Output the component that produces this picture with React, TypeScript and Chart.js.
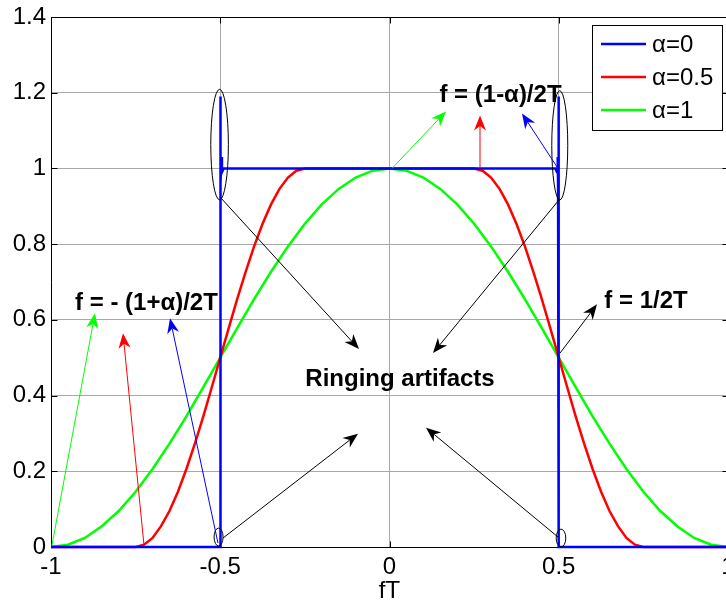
import React, { useEffect, useRef } from 'react';
import { Chart, registerables } from 'chart.js';

Chart.register(...registerables);

// ---------- data ----------
const xTicks = [-1, -0.5, 0, 0.5, 1];
const xTickLabels = ['-1', '-0.5', '0', '0.5', '1'];
const yTicks = [0, 0.2, 0.4, 0.6, 0.8, 1, 1.2, 1.4];
const yTickLabels = ['0', '0.2', '0.4', '0.6', '0.8', '1', '1.2', '1.4'];

const seriesLabels = ['\u03b1=0', '\u03b1=0.5', '\u03b1=1'];
const seriesColors = ['#0000ff', '#ff0000', '#00ff00'];

// alpha = 0 (ideal brick-wall with ringing at the edges)
const blueX = [-1, -0.5, -0.5, -0.5, -0.499, -0.498, -0.497, -0.495, -0.49, 0.49, 0.495, 0.497, 0.498, 0.499, 0.5, 0.5, 0.5, 1];
const blueY = [0, 0, 1.19, 0.93, 1.06, 0.96, 1.03, 0.99, 1.0, 1.0, 0.99, 1.03, 0.96, 1.06, 0.93, 1.19, 0, 0];

// alpha = 0.5
const redX = [
  -1,
  -0.75, -0.725, -0.7, -0.675, -0.65, -0.625, -0.6, -0.575, -0.55, -0.525, -0.5,
  -0.475, -0.45, -0.425, -0.4, -0.375, -0.35, -0.325, -0.3, -0.275, -0.25,
  0.25, 0.275, 0.3, 0.325, 0.35, 0.375, 0.4, 0.425, 0.45, 0.475, 0.5,
  0.525, 0.55, 0.575, 0.6, 0.625, 0.65, 0.675, 0.7, 0.725, 0.75,
  1,
];
const redY = [
  0,
  0, 0.006, 0.024, 0.055, 0.095, 0.146, 0.206, 0.273, 0.345, 0.422, 0.5,
  0.578, 0.655, 0.727, 0.794, 0.854, 0.905, 0.946, 0.976, 0.994, 1,
  1, 0.994, 0.976, 0.946, 0.905, 0.854, 0.794, 0.727, 0.655, 0.578, 0.5,
  0.422, 0.345, 0.273, 0.206, 0.146, 0.095, 0.055, 0.024, 0.006, 0,
  0,
];

// alpha = 1
const greenX = [
  -1, -0.95, -0.9, -0.85, -0.8, -0.75, -0.7, -0.65, -0.6, -0.55, -0.5,
  -0.45, -0.4, -0.35, -0.3, -0.25, -0.2, -0.15, -0.1, -0.05, 0,
  0.05, 0.1, 0.15, 0.2, 0.25, 0.3, 0.35, 0.4, 0.45, 0.5,
  0.55, 0.6, 0.65, 0.7, 0.75, 0.8, 0.85, 0.9, 0.95, 1,
];
const greenY = [
  0, 0.006, 0.024, 0.055, 0.095, 0.146, 0.206, 0.273, 0.345, 0.422, 0.5,
  0.578, 0.655, 0.727, 0.794, 0.854, 0.905, 0.946, 0.976, 0.994, 1,
  0.994, 0.976, 0.946, 0.905, 0.854, 0.794, 0.727, 0.655, 0.578, 0.5,
  0.422, 0.345, 0.273, 0.206, 0.146, 0.095, 0.055, 0.024, 0.006, 0,
];

// ---------- annotations (data coordinates) ----------
const ellipses = [
  { x: -0.502, y: 1.063, rx: 0.026, ry: 0.146 },
  { x: 0.503, y: 1.061, rx: 0.0236, ry: 0.1445 },
  { x: -0.505, y: 0.0263, rx: 0.0133, ry: 0.0236 },
  { x: 0.5066, y: 0.0236, rx: 0.0142, ry: 0.0236 },
];

const arrows = [
  { x1: -0.5007, y1: 0.9246, x2: -0.0901, y2: 0.5227, color: '#000000' },
  { x1: 0.5007, y1: 0.9167, x2: 0.1285, y2: 0.5122, color: '#000000' },
  { x1: -0.4919, y1: 0.0236, x2: -0.0931, y2: 0.2994, color: '#000000' },
  { x1: 0.4978, y1: 0.0263, x2: 0.1078, y2: 0.3152, color: '#000000' },
  { x1: 0.5037, y1: 0.5122, x2: 0.613, y2: 0.6409, color: '#000000' },
  { x1: 0.0074, y1: 1.0, x2: 0.1669, y2: 1.1505, color: '#00ff00' },
  { x1: 0.2674, y1: 1.0, x2: 0.2674, y2: 1.14, color: '#ff0000' },
  { x1: 0.4978, y1: 1.0, x2: 0.3914, y2: 1.1453, color: '#0000ff' },
  { x1: -0.997, y1: 0.005, x2: -0.87, y2: 0.6173, color: '#00ff00' },
  { x1: -0.7253, y1: 0.005, x2: -0.7873, y2: 0.5647, color: '#ff0000' },
  { x1: -0.5067, y1: 0.0105, x2: -0.6484, y2: 0.6042, color: '#0000ff' },
];

const texts = [
  { text: 'f = (1-\u03b1)/2T', x: 0.3279, y: 1.1755 },
  { text: 'f = - (1+\u03b1)/2T', x: -0.7179, y: 0.6252 },
  { text: 'f = 1/2T', x: 0.7578, y: 0.6312 },
  { text: 'Ringing artifacts', x: 0.031, y: 0.4255 },
];

const FONT = '"Liberation Sans", Arial, Helvetica, sans-serif';
const GRID = '#a8a8a8';

function drawArrow(ctx: CanvasRenderingContext2D, x1: number, y1: number, x2: number, y2: number, color: string) {
  const L = 15;
  const W = 12;
  const ang = Math.atan2(y2 - y1, x2 - x1);
  const c = Math.cos(ang);
  const s = Math.sin(ang);
  const nx = x2 - L * 0.7 * c;
  const ny = y2 - L * 0.7 * s;
  ctx.strokeStyle = color;
  ctx.lineWidth = 1;
  ctx.beginPath();
  ctx.moveTo(x1, y1);
  ctx.lineTo(nx, ny);
  ctx.stroke();
  ctx.fillStyle = color;
  ctx.beginPath();
  ctx.moveTo(x2, y2);
  ctx.lineTo(x2 - L * c + (W / 2) * s, y2 - L * s - (W / 2) * c);
  ctx.lineTo(nx, ny);
  ctx.lineTo(x2 - L * c - (W / 2) * s, y2 - L * s + (W / 2) * c);
  ctx.closePath();
  ctx.fill();
}

const decorPlugin = {
  id: 'decor',
  beforeDatasetsDraw(chart: any) {
    const { ctx, chartArea: ca, scales } = chart;
    const xs = scales.x;
    const ys = scales.y;
    ctx.save();
    ctx.strokeStyle = '#000';
    ctx.lineWidth = 1;
    const l = Math.round(ca.left) + 0.5;
    const t = Math.round(ca.top) + 0.5;
    const r = Math.round(ca.right) + 0.5;
    const b = Math.round(ca.bottom) + 0.5;
    ctx.beginPath();
    ctx.moveTo(l, t);
    ctx.lineTo(r, t);
    ctx.lineTo(r, b);
    ctx.lineTo(l, b);
    ctx.closePath();
    ctx.stroke();
    const tl = 6;
    ctx.beginPath();
    xTicks.forEach((v) => {
      const p = Math.round(xs.getPixelForValue(v)) + 0.5;
      ctx.moveTo(p, b);
      ctx.lineTo(p, b - tl);
      ctx.moveTo(p, t);
      ctx.lineTo(p, t + tl);
    });
    yTicks.forEach((v) => {
      const p = Math.round(ys.getPixelForValue(v)) + 0.5;
      ctx.moveTo(l, p);
      ctx.lineTo(l + tl, p);
      ctx.moveTo(r, p);
      ctx.lineTo(r - tl, p);
    });
    ctx.stroke();
    ctx.restore();
  },
  afterDatasetsDraw(chart: any) {
    const { ctx, chartArea: ca, scales } = chart;
    const xs = scales.x;
    const ys = scales.y;
    const px = (v: number) => xs.getPixelForValue(v);
    const py = (v: number) => ys.getPixelForValue(v);
    ctx.save();
    // ellipses
    ctx.strokeStyle = '#000';
    ctx.lineWidth = 1;
    ellipses.forEach((e) => {
      const cx = px(e.x);
      const cy = py(e.y);
      const rx = Math.abs(px(e.x + e.rx) - cx);
      const ry = Math.abs(py(e.y + e.ry) - cy);
      ctx.beginPath();
      ctx.ellipse(cx, cy, rx, ry, 0, 0, Math.PI * 2);
      ctx.stroke();
    });
    // arrows
    arrows.forEach((a) => drawArrow(ctx, px(a.x1), py(a.y1), px(a.x2), py(a.y2), a.color));
    // texts
    ctx.fillStyle = '#000';
    ctx.font = `bold 24px ${FONT}`;
    ctx.textAlign = 'center';
    ctx.textBaseline = 'alphabetic';
    texts.forEach((tx) => ctx.fillText(tx.text, px(tx.x), py(tx.y)));
    // legend
    const bw = 130;
    const bh = 105;
    const bx = Math.round(ca.right) - 6 - bw;
    const by = Math.round(ca.top) + 8;
    ctx.fillStyle = '#fff';
    ctx.fillRect(bx, by, bw, bh);
    ctx.strokeStyle = '#000';
    ctx.lineWidth = 1;
    ctx.strokeRect(bx + 0.5, by + 0.5, bw, bh);
    const rows = [19, 52, 85];
    ctx.font = `24px ${FONT}`;
    ctx.textAlign = 'left';
    ctx.textBaseline = 'middle';
    chart.data.datasets.forEach((ds: any, i: number) => {
      const yy = by + rows[i];
      ctx.strokeStyle = ds.borderColor;
      ctx.lineWidth = 2.5;
      ctx.beginPath();
      ctx.moveTo(bx + 9, yy);
      ctx.lineTo(bx + 54, yy);
      ctx.stroke();
      ctx.fillStyle = '#000';
      ctx.fillText(ds.label, bx + 60, yy + 1);
    });
    ctx.restore();
  },
};

const toPoints = (xs: number[], ys: number[]) => xs.map((x, i) => ({ x, y: ys[i] }));

export default function App() {
  const ref = useRef<HTMLCanvasElement | null>(null);

  useEffect(() => {
    document.body.style.margin = '0';
    document.body.style.overflow = 'hidden';
    if (!ref.current) return;
    const series = [
      toPoints(blueX, blueY),
      toPoints(redX, redY),
      toPoints(greenX, greenY),
    ];
    const chart = new Chart(ref.current, {
      type: 'line',
      data: {
        datasets: series.map((data, i) => ({
          label: seriesLabels[i],
          data,
          borderColor: seriesColors[i],
          backgroundColor: seriesColors[i],
          borderWidth: 2.5,
          pointRadius: 0,
          fill: false,
          tension: 0,
          clip: false as any,
        })),
      },
      options: {
        responsive: false,
        animation: false,
        devicePixelRatio: 1,
        events: [],
        layout: { padding: { left: 0, right: 44, top: 14, bottom: 0 } },
        plugins: { legend: { display: false }, tooltip: { enabled: false } },
        scales: {
          x: {
            type: 'linear',
            min: -1,
            max: 1,
            afterBuildTicks: (s: any) => {
              s.ticks = xTicks.map((v) => ({ value: v }));
            },
            afterFit: (s: any) => {
              s.height = 56;
            },
            ticks: {
              callback: (_v: any, i: number) => xTickLabels[i],
              color: '#000',
              font: { family: FONT, size: 24, lineHeight: 1 },
              padding: 8,
              maxRotation: 0,
              autoSkip: false,
            },
            grid: { color: GRID, drawTicks: false, lineWidth: 1 },
            border: { display: false },
            title: {
              display: true,
              text: 'fT',
              color: '#000',
              font: { family: FONT, size: 24, lineHeight: 1 },
              padding: { top: 0, bottom: 0 },
            },
          },
          y: {
            type: 'linear',
            min: 0,
            max: 1.4,
            afterBuildTicks: (s: any) => {
              s.ticks = yTicks.map((v) => ({ value: v }));
            },
            afterFit: (s: any) => {
              s.width = 51;
            },
            ticks: {
              callback: (_v: any, i: number) => yTickLabels[i],
              color: '#000',
              font: { family: FONT, size: 24, lineHeight: 1 },
              padding: 5,
              autoSkip: false,
            },
            grid: { color: GRID, drawTicks: false, lineWidth: 1 },
            border: { display: false },
          },
        },
      } as any,
      plugins: [decorPlugin],
    });
    return () => chart.destroy();
  }, []);

  return (
    <div
      style={{
        position: 'fixed',
        left: 0,
        top: 0,
        width: 726,
        height: 603,
        overflow: 'hidden',
        background: '#fff',
      }}
    >
      <canvas ref={ref} width={772} height={603} style={{ display: 'block', width: 772, height: 603 }} />
    </div>
  );
}
